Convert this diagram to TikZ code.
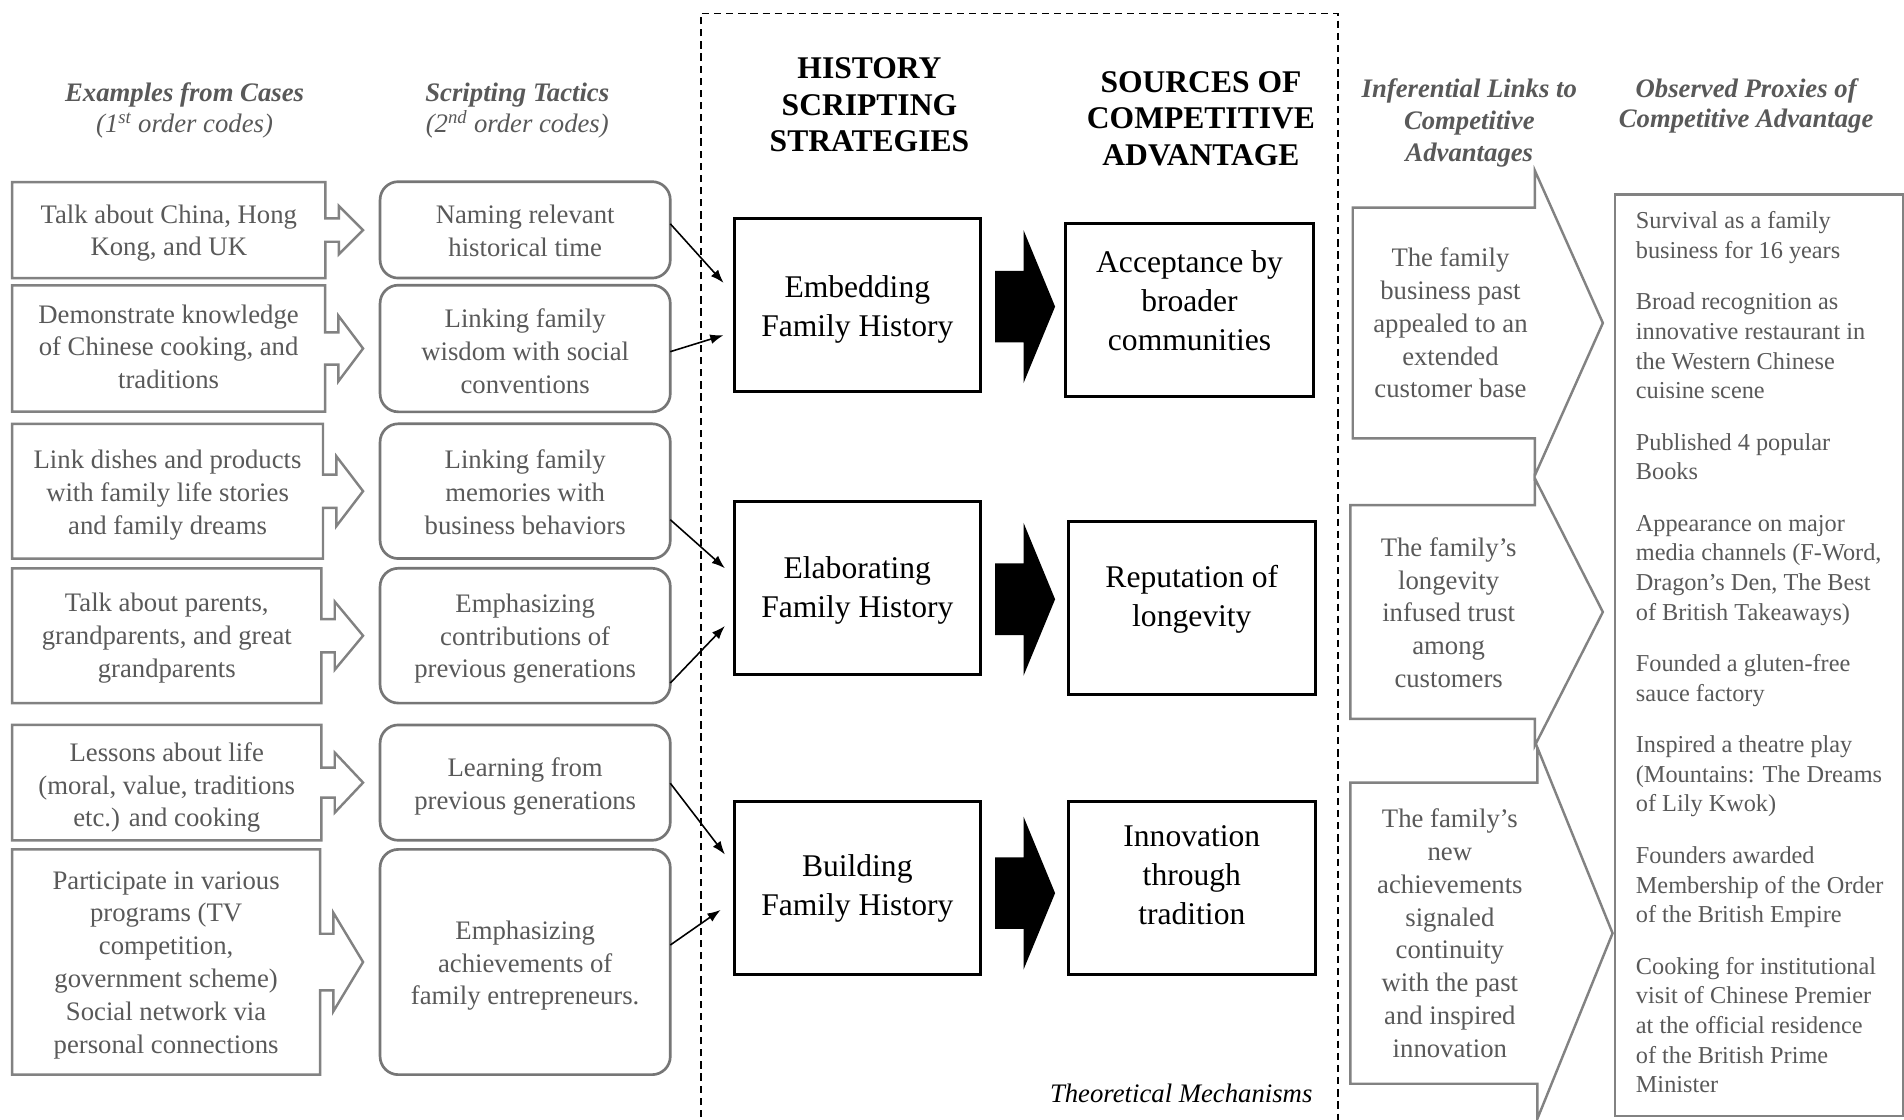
\documentclass[tikz,border=0pt]{standalone}
\usepackage{fontspec}
\setmainfont{Liberation Serif}
\usetikzlibrary{calc,arrows.meta}
\definecolor{txtgray}{RGB}{89,89,89}
\definecolor{boxgray}{RGB}{130,130,130}
\definecolor{mboxgray}{RGB}{118,118,118}
% outline of a box with a notched arrow on its right side
% #1 node, #2 shaft half height, #3 head half height, #4 shaft length, #5 head length
\newcommand{\notchoutline}[5]{%
  \draw[outl] (#1.north west) -- (#1.north east) -- ($(#1.east)+(0,-#2)$) -- ++(#4,0)
    -- ++(0,{#2-#3}) -- ($(#1.east)+({#4+#5},0)$) -- ($(#1.east)+(#4,#3)$)
    -- ++(0,{#2-#3}) -- ($(#1.east)+(0,#2)$) -- (#1.south east) -- (#1.south west) -- cycle;}
% chevron outline: #1 node, #2 head half height, #3 head length
\newcommand{\chevoutline}[3]{%
  \draw[outl] (#1.north west) -- (#1.north east) -- ($(#1.east)+(0,-#2)$)
    -- ($(#1.east)+(#3,0)$) -- ($(#1.east)+(0,#2)$) -- (#1.south east) -- (#1.south west) -- cycle;}
\newcommand{\blockarrow}[1]{%
  \fill[black] (#1) ++(0,-29.5) -- ++(23.4,0) -- ++(0,-33.5) -- ++(26,63) -- ++(-26,63)
    -- ++(0,-33.5) -- ++(-23.4,0) -- cycle;}
% text placed in a named box: style, box, offset, text
\newcommand{\boxlabel}[4]{\node[#1] (#2t) at ($(#2.center)+#3$) {#4};}
\begin{document}
\begin{tikzpicture}[x=1pt,y=-1pt,
  hdr/.style={align=center, text=txtgray, inner sep=0pt, font=\itshape\fontsize{22}{26}\selectfont},
  bhdr/.style={align=center, text=black, inner sep=0pt, font=\bfseries\fontsize{26}{30}\selectfont},
  lbox/.style={draw=none, inner sep=0pt, outer sep=0pt},
  gtext/.style={align=center, inner sep=0pt, text=txtgray, font=\fontsize{22}{27}\selectfont},
  mbox/.style={draw=mboxgray, line width=2.2pt, rounded corners=15pt, inner sep=0pt, outer sep=0pt,
    minimum width=239pt},
  outl/.style={draw=boxgray, line width=2pt, line join=miter},
  bbox/.style={draw=black, line width=2.5pt, inner sep=0pt, outer sep=0pt,
    minimum width=203pt, minimum height=142.5pt},
  btxt/.style={align=center, inner sep=0pt, font=\fontsize{26}{32}\selectfont},
  conn/.style={draw=black, line width=1.3pt, -{Latex[length=11pt,width=8pt]}},
  frame/.style={draw=black, line width=1.4pt, dash pattern=on 6pt off 4pt}
]
\useasboundingbox (0,0) rectangle (1568,922);
\fill[white] (0,0) rectangle (1568,922);

% dashed frame of the theoretical mechanisms
\draw[frame] (577,940) -- (577,11) -- (1102,11) -- (1102,940);

% headers
\node[hdr] (hA) at (152,91) {{\bfseries Examples from Cases}\\(1\textsuperscript{st} order codes)};
\node[hdr] (hB) at (426,91) {{\bfseries Scripting Tactics}\\(2\textsuperscript{nd} order codes)};
\node[bhdr, font=\bfseries\fontsize{26}{30.2}\selectfont] (hC) at (716,86.3) {HISTORY\\SCRIPTING\\STRATEGIES};
\node[bhdr] (hD) at (989,97.5) {SOURCES OF\\COMPETITIVE\\ADVANTAGE};
\node[hdr, font=\bfseries\itshape\fontsize{22}{26.5}\selectfont] (hE) at (1210,101) {Inferential Links to\\Competitive\\Advantages};
\node[hdr, font=\bfseries\itshape\fontsize{22}{25}\selectfont] (hF) at (1438,87) {Observed Proxies of\\Competitive Advantage};

% examples from cases
\node[lbox, minimum width=258pt, minimum height=79pt] (L1) at (139,189.5) {};
\notchoutline{L1}{9.6}{20}{11}{20}
\boxlabel{gtext}{L1}{(0,2.5)}{Talk about China, Hong\\Kong, and UK}
\node[lbox, minimum width=257.7pt, minimum height=104pt] (L2) at (138.85,287) {};
\notchoutline{L2}{13.3}{27}{11}{20.3}
\boxlabel{gtext}{L2}{(0,-1.5)}{Demonstrate knowledge\\of Chinese cooking, and\\traditions}
\node[lbox, minimum width=256pt, minimum height=111pt] (L3) at (138,404.5) {};
\notchoutline{L3}{13.7}{28.8}{11}{22}
\boxlabel{gtext}{L3}{(0,3)}{Link dishes and products\\with family life stories\\and family dreams}
\node[lbox, minimum width=254.7pt, minimum height=111pt] (L4) at (137.35,523.5) {};
\notchoutline{L4}{13.7}{28}{11}{23.3}
\boxlabel{gtext}{L4}{(0,2)}{Talk about parents,\\grandparents, and great\\grandparents}
\node[lbox, minimum width=254.7pt, minimum height=95pt] (L5) at (137.35,644.5) {};
\notchoutline{L5}{12.4}{24.7}{11}{23.3}
\boxlabel{gtext}{L5}{(0,4)}{Lessons about life\\(moral, value, traditions\\etc.) and cooking}
\node[lbox, minimum width=253.6pt, minimum height=185.5pt] (L6) at (136.8,792.25) {};
\notchoutline{L6}{23.3}{40.5}{11}{24.4}
\boxlabel{gtext}{L6}{(0,2.5)}{Participate in various\\programs (TV\\competition,\\government scheme)\\Social network via\\personal connections}

% scripting tactics
\node[mbox, minimum height=79.4pt] (M1) at (432.5,189.3) {};
\boxlabel{gtext}{M1}{(0,0.5)}{Naming relevant\\historical time}
\node[mbox, minimum height=104.3pt] (M2) at (432.5,287) {};
\boxlabel{gtext}{M2}{(0,2)}{Linking family\\wisdom with social\\conventions}
\node[mbox, minimum height=111pt] (M3) at (432.5,404.5) {};
\boxlabel{gtext}{M3}{(0,1)}{Linking family\\memories with\\business behaviors}
\node[mbox, minimum height=111pt] (M4) at (432.5,523.5) {};
\boxlabel{gtext}{M4}{(0,2.5)}{Emphasizing\\contributions of\\previous generations}
\node[mbox, minimum height=95pt] (M5) at (432.5,644.5) {};
\boxlabel{gtext}{M5}{(0,3)}{Learning from\\previous generations}
\node[mbox, minimum height=185.5pt] (M6) at (432.5,792.25) {};
\boxlabel{gtext}{M6}{(0,3)}{Emphasizing\\achievements of\\family entrepreneurs.}

% strategies
\node[bbox] (E) at (706,251) {};
\boxlabel{btxt}{E}{(0,3.5)}{Embedding\\Family History}
\node[bbox] (EL) at (706,484.5) {};
\boxlabel{btxt}{EL}{(0,2)}{Elaborating\\Family History}
\node[bbox] (B) at (706,731) {};
\boxlabel{btxt}{B}{(0,1)}{Building\\Family History}

% sources of competitive advantage
\node[bbox, minimum width=203.5pt] (A) at (979.6,255.4) {};
\boxlabel{btxt}{A}{(0,-8)}{Acceptance by\\broader\\communities}
\node[bbox] (R) at (981.5,500.5) {};
\boxlabel{btxt}{R}{(0,-7)}{Reputation of\\longevity}
\node[bbox] (I) at (981.5,731) {};
\boxlabel{btxt}{I}{(0,-10)}{Innovation\\through\\tradition}

% block arrows
\coordinate (ar1) at ($(E.east)+(12,1.5)$);
\coordinate (ar2) at ($(EL.east)+(12,9)$);
\coordinate (ar3) at ($(B.east)+(12,4.5)$);
\blockarrow{ar1}
\blockarrow{ar2}
\blockarrow{ar3}

% connectors tactics -> strategies
\draw[conn] ($(M1.east)+(0,-5)$) -- ($(E.west)+(-8.6,-18)$);
\draw[conn] ($(M2.east)+(0,2.6)$) -- ($(E.west)+(-8.6,25)$);
\draw[conn] ($(M3.east)+(0,23.5)$) -- ($(EL.west)+(-7.5,-16.5)$);
\draw[conn] ($(M4.east)+(0,39)$) -- ($(EL.west)+(-7.5,31)$);
\draw[conn] ($(M5.east)+(0,0.5)$) -- ($(B.west)+(-7.5,-27.3)$);
\draw[conn] ($(M6.east)+(0,-14)$) -- ($(B.west)+(-11,18.3)$);

\node[anchor=base east, inner sep=0pt, font=\itshape\fontsize{22}{26}\selectfont] (TM) at (1081,908) {Theoretical Mechanisms};

% inferential links
\node[lbox, minimum width=150pt, minimum height=190pt] (C1) at (1189,266) {};
\chevoutline{C1}{125.5}{56}
\boxlabel{gtext}{C1}{(5.5,0)}{The family\\business past\\appealed to an\\extended\\customer base}
\node[lbox, minimum width=152pt, minimum height=176pt] (C2) at (1188,504) {};
\chevoutline{C2}{110}{56}
\boxlabel{gtext}{C2}{(5,0.5)}{The family’s\\longevity\\infused trust\\among\\customers}
\node[lbox, minimum width=154pt, minimum height=248pt] (C3) at (1189,768.5) {};
\chevoutline{C3}{153}{62}
\boxlabel{gtext}{C3}{(5,0)}{The family’s\\new\\achievements\\signaled\\continuity\\with the past\\and inspired\\innovation}

% observed proxies
\node[draw=boxgray, line width=2pt, minimum width=237pt, minimum height=759pt, inner sep=0pt, outer sep=0pt] (O) at (1448.5,539.5) {};
\node[anchor=north west, align=left, inner sep=0pt, text=txtgray, font=\fontsize{20}{24.4}\selectfont] (OT) at ($(O.north west)+(17,14)$)
{Survival as a family\\business for 16 years\\[18pt]
Broad recognition as\\innovative restaurant in\\the Western Chinese\\cuisine scene\\[18pt]
Published 4 popular\\Books\\[18pt]
Appearance on major\\media channels (F-Word,\\Dragon’s Den, The Best\\of British Takeaways)\\[18pt]
Founded a gluten-free\\sauce factory\\[18pt]
Inspired a theatre play\\(Mountains: The Dreams\\of Lily Kwok)\\[18pt]
Founders awarded\\Membership of the Order\\of the British Empire\\[18pt]
Cooking for institutional\\visit of Chinese Premier\\at the official residence\\of the British Prime\\Minister};
\end{tikzpicture}
\end{document}
